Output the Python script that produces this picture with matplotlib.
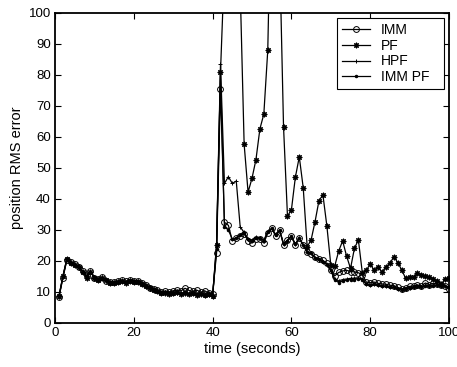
import matplotlib
matplotlib.use('Agg')
import matplotlib.pyplot as plt
import numpy as np

#------------------------------------------------------------------------#
# Data, one value per second, t = 1..100
#------------------------------------------------------------------------#

t = list(range(1, 101))

imm = [8.3, 14.5, 20.3, 19.6, 18.9, 18.0, 16.8, 15.3, 16.7, 14.5,
       14.2, 14.8, 13.6, 13.3, 13.2, 13.5, 13.8, 13.4, 14.0, 13.6,
       13.6, 13.0, 12.3, 11.3, 10.9, 10.6, 10.0, 10.3, 10.0, 10.4,
       10.6, 10.4, 11.2, 10.5, 10.2, 10.6, 9.9, 10.4, 9.6, 9.5,
       22.5, 75.5, 32.5, 31.5, 26.5, 27.5, 28.0, 28.8, 26.5, 25.8,
       27.2, 27.0, 25.8, 29.0, 30.6, 28.0, 30.0, 25.2, 26.8, 28.0,
       25.0, 27.5, 25.2, 22.8, 22.3, 21.2, 20.6, 20.2, 19.2, 17.2,
       15.2, 16.3, 16.8, 17.0, 16.6, 16.5, 16.2, 15.6, 13.2, 13.0,
       13.2, 12.8, 12.6, 12.5, 12.2, 12.0, 11.5, 11.0, 11.4, 11.8,
       12.0, 12.2, 12.0, 12.9, 12.4, 12.8, 12.6, 12.2, 11.8, 11.0]

pf = [8.6, 15.0, 20.8, 19.4, 18.6, 18.2, 16.5, 14.6, 16.4, 14.6,
      14.0, 14.5, 13.8, 13.0, 12.9, 13.3, 13.5, 13.0, 13.6, 13.3,
      13.2, 12.7, 11.8, 11.2, 10.8, 10.2, 9.6, 9.8, 9.5, 9.6,
      9.9, 9.5, 9.8, 9.4, 9.7, 9.1, 9.4, 9.0, 9.2, 8.8,
      25.0, 81.0, 115.0, 160.0, 200.0, 180.0, 108.0, 57.7, 42.2, 46.7,
      52.7, 62.6, 67.4, 88.0, 150.0, 170.0, 120.0, 63.3, 34.5, 36.5,
      47.0, 53.6, 43.6, 24.6, 26.8, 32.7, 39.5, 41.3, 31.3, 18.7,
      18.4, 23.2, 26.5, 21.6, 17.6, 24.1, 26.8, 16.2, 17.0, 19.0,
      17.0, 18.0, 16.4, 18.2, 19.2, 21.4, 19.5, 17.1, 14.4, 14.7,
      14.7, 16.2, 15.5, 15.2, 14.8, 14.3, 13.5, 12.5, 14.2, 14.6]

hpf = [8.7, 15.2, 20.6, 19.8, 18.7, 18.3, 16.6, 14.8, 16.6, 14.8,
       14.3, 14.7, 13.7, 13.2, 13.1, 13.4, 13.7, 13.2, 13.8, 13.4,
       13.4, 12.8, 11.6, 11.0, 10.9, 10.4, 9.7, 9.9, 9.6, 9.7,
       9.8, 9.6, 9.9, 9.3, 9.6, 9.2, 9.5, 8.9, 9.0, 8.6,
       25.5, 83.5, 45.0, 47.2, 45.0, 45.8, 31.0, 29.2, 27.2, 26.8,
       27.6, 27.4, 26.6, 29.6, 30.4, 28.6, 29.8, 25.6, 26.6, 27.8,
       25.4, 27.4, 25.0, 23.0, 22.6, 21.0, 20.4, 19.8, 18.8, 16.8,
       14.2, 13.6, 14.0, 14.2, 14.4, 14.5, 14.6, 14.2, 12.6, 12.4,
       12.6, 12.3, 12.0, 11.8, 11.7, 11.5, 11.1, 10.8, 11.1, 11.4,
       11.7, 11.9, 11.6, 12.1, 11.9, 12.1, 12.3, 12.1, 11.9, 11.7]

imm_pf = [8.5, 14.8, 20.5, 19.5, 18.8, 18.2, 16.5, 15.0, 16.5, 14.8,
          14.3, 14.6, 13.8, 13.2, 13.0, 13.3, 13.6, 13.2, 13.9, 13.4,
          13.5, 12.9, 12.4, 11.5, 11.0, 10.3, 9.6, 9.9, 9.6, 9.5,
          9.8, 9.4, 9.6, 9.2, 9.5, 9.0, 9.3, 8.8, 8.9, 8.5,
          24.0, 81.0, 31.0, 30.0, 27.0, 27.5, 28.5, 29.0, 27.0, 26.5,
          27.5, 27.5, 26.5, 29.5, 30.5, 28.5, 30.0, 25.5, 26.5, 28.0,
          25.5, 27.5, 25.0, 23.0, 22.5, 21.0, 20.5, 19.8, 19.0, 17.0,
          14.0, 13.0, 13.5, 13.8, 14.0, 14.0, 14.3, 14.0, 12.5, 12.3,
          12.5, 12.2, 12.0, 11.8, 11.6, 11.5, 11.0, 10.7, 11.0, 11.3,
          11.6, 11.8, 11.5, 12.0, 11.8, 12.0, 12.2, 12.0, 11.8, 11.5]

labels = ['IMM', 'PF', 'HPF', 'IMM PF']

#------------------------------------------------------------------------#
# Plot
#------------------------------------------------------------------------#

plt.rcParams['font.family'] = ['Liberation Sans', 'DejaVu Sans']
plt.rcParams['font.size'] = 10

fig = plt.figure(figsize=(4.57, 3.67), dpi=100)
ax = fig.add_axes([0.1204, 0.1199, 0.8621, 0.8447])

lw = 0.9
ax.plot(t, imm, '-o', color='black', lw=lw, ms=4.2, mfc='none', mew=0.7)
ax.plot(t, pf, '-', marker=(8, 2, 0), color='black', lw=lw, ms=4.0, mew=0.8)
ax.plot(t, hpf, '-+', color='black', lw=lw, ms=3.5, mew=0.7)
ax.plot(t, imm_pf, '-', marker='.', color='black', lw=lw, ms=3.0)

ax.set_xlim(0, 100)
ax.set_ylim(0, 100)
ax.set_xticks(np.arange(0, 101, 20))
ax.set_yticks(np.arange(0, 101, 10))
ax.tick_params(direction='in', top=True, right=True, length=4, width=0.8,
               labelsize=9.5, colors='black', pad=3)
for s in ax.spines.values():
    s.set_linewidth(1.3)

ax.set_xlabel('time (seconds)', fontsize=10.5, labelpad=2)
ax.set_ylabel('position RMS error', fontsize=10.5, labelpad=3)

leg = ax.legend(labels, loc='upper left', fontsize=10, fancybox=False,
                framealpha=1, edgecolor='black', borderpad=0.35,
                labelspacing=0.12, handlelength=2.0, handletextpad=0.8,
                bbox_to_anchor=(0.7157, 0.0, 0.2716, 0.983), mode='expand',
                borderaxespad=0.0)
leg.get_frame().set_linewidth(0.8)

plt.savefig('out.png', dpi=100)
